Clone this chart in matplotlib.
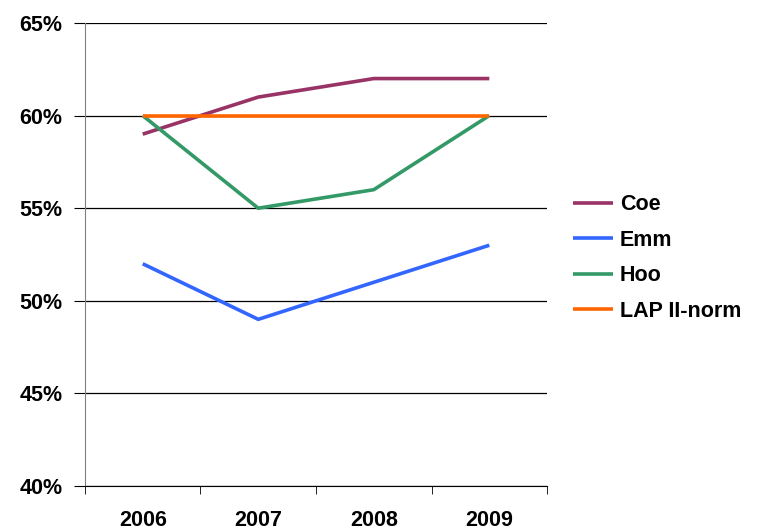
import matplotlib.pyplot as plt
import numpy as np

plt.rcParams['font.family'] = ['Liberation Sans', 'DejaVu Sans']

years = ['2006', '2007', '2008', '2009']
coe = [59, 61, 62, 62]
emm = [52, 49, 51, 53]
hoo = [60, 55, 56, 60]
lap = [60, 60, 60, 60]
series_names = ['Coe', 'Emm', 'Hoo', 'LAP II-norm']
colors = ['#993366', '#3366FF', '#339966', '#FF6600']

fig = plt.figure(figsize=(7.6, 5.31), dpi=100)
ax = fig.add_axes([0.1118, 0.0847, 0.608, 0.872])

x = np.arange(len(years))
for vals, name, c in zip([coe, emm, hoo, lap], series_names, colors):
    ax.plot(x, np.array(vals) / 100, color=c, lw=2.6, label=name, solid_capstyle='butt')

ax.set_xlim(-0.5, 3.5)
ax.set_ylim(0.40, 0.65)
yt = np.arange(0.40, 0.651, 0.05)
ax.set_yticks(yt)
ax.set_yticklabels(['%d%%' % round(v * 100) for v in yt])
ax.yaxis.grid(True, color='black', lw=0.9)
ax.set_axisbelow(True)

ax.set_xticks(x)
ax.set_xticklabels(years)
ax.set_xticks(np.arange(-0.5, 3.6, 1), minor=True)
ax.tick_params(axis='x', which='major', length=0, pad=17)
ax.tick_params(axis='x', which='minor', length=6, direction='out', color='black')
ax.tick_params(axis='y', length=8, direction='out', color='black', pad=8)

for lbl in ax.get_xticklabels() + ax.get_yticklabels():
    lbl.set_fontweight('bold')
    lbl.set_fontsize(15.5)

for s in ['top', 'right']:
    ax.spines[s].set_visible(False)
ax.spines['left'].set_color('#808080')
ax.spines['bottom'].set_color('black')

fig.legend(loc='upper left', bbox_to_anchor=(0.729, 0.671), frameon=False,
           prop={'weight': 'bold', 'size': 15.5}, handlelength=1.85,
           handletextpad=0.3, labelspacing=0.68)

fig.savefig('out.png', dpi=100)
